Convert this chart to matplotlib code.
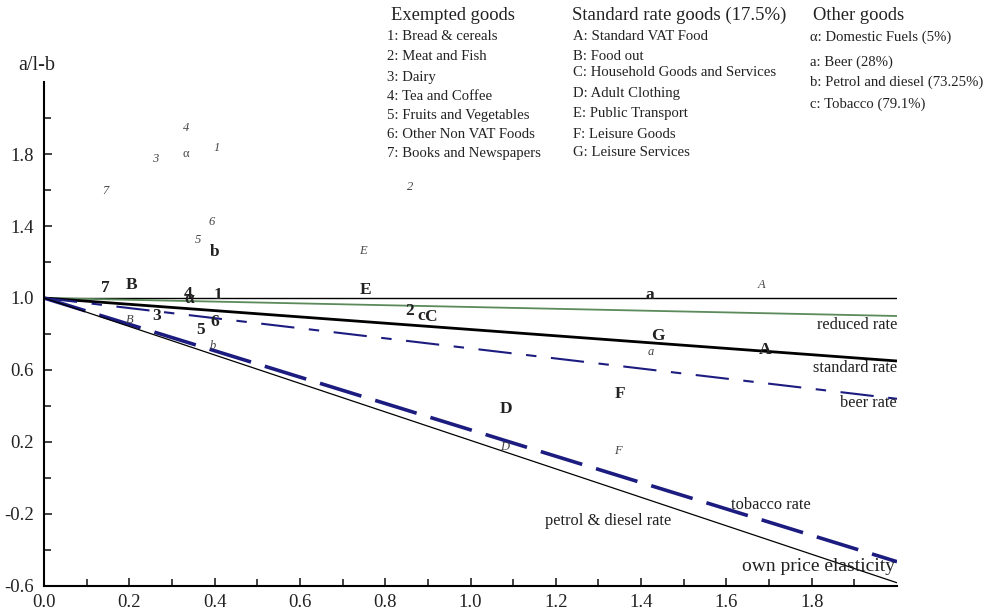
import numpy as np
import matplotlib
matplotlib.use('Agg')
import matplotlib.pyplot as plt

plt.rcParams['font.family'] = ['Liberation Serif', 'DejaVu Serif']

# tax rates of the lines  y = 1 - rate * elasticity
line_names = ['no tax', 'reduced rate', 'standard rate', 'beer rate', 'tobacco rate', 'petrol & diesel rate']
line_rates = [0.0, 0.05, 0.175, 0.28, 0.7325, 0.791]
elast = [0.0, 2.0]

# bold labels (one set of estimates)
bold_lab = ['7', 'B', '4', 'α', '1', 'E', 'a', '2', 'c', 'C', 'G', 'A', '3', '6', '5', 'b', 'D', 'F']
bold_x = [0.143, 0.206, 0.338, 0.34, 0.408, 0.753, 1.421, 0.858, 0.885, 0.907, 1.44, 1.69, 0.265, 0.40, 0.366, 0.40, 1.083, 1.35]
bold_y = [1.056, 1.07, 1.025, 0.995, 1.017, 1.044, 1.017, 0.93, 0.90, 0.895, 0.79, 0.71, 0.90, 0.867, 0.82, 1.256, 0.383, 0.467]

# italic labels (other set of estimates)
ital_lab = ['4', '1', 'α', '3', '7', '6', '5', '2', 'E', 'A', 'B', 'b', 'a', 'D', 'F']
ital_x = [0.333, 0.406, 0.333, 0.26, 0.145, 0.394, 0.361, 0.858, 0.748, 1.683, 0.202, 0.396, 1.423, 1.081, 1.346]
ital_y = [1.944, 1.833, 1.80, 1.772, 1.594, 1.422, 1.322, 1.617, 1.261, 1.072, 0.878, 0.733, 0.70, 0.172, 0.15]

exempt = ['1: Bread & cereals', '2: Meat and Fish', '3: Dairy', '4: Tea and Coffee',
          '5: Fruits and Vegetables', '6: Other Non VAT Foods', '7: Books and Newspapers']
standard = ['A: Standard VAT Food', 'B: Food out', 'C: Household Goods and Services',
            'D: Adult Clothing', 'E: Public Transport', 'F: Leisure Goods', 'G: Leisure Services']
other = ['α: Domestic Fuels (5%)', 'a: Beer (28%)', 'b: Petrol and diesel (73.25%)', 'c: Tobacco (79.1%)']

W, H = 995, 612
fig = plt.figure(figsize=(W / 100, H / 100), dpi=100)
ax = fig.add_axes([44 / W, 26 / H, 853 / W, 504 / H])

def px(x, y):
    return x / W, 1 - y / H

tc = '#222222'
navy = '#1c1c80'
styles = [dict(color='black', lw=1.0),
          dict(color='#5b8a5b', lw=1.3),
          dict(color='black', lw=2.0),
          dict(color=navy, lw=1.5, dashes=(16, 7, 5, 7)),
          dict(color=navy, lw=2.6, dashes=(12, 4)),
          dict(color='black', lw=0.9)]
for r, st in zip(line_rates, styles):
    ys = [1 - r * e for e in elast]
    ax.plot(elast, ys, solid_capstyle='butt', **st)

ax.set_xlim(0, 2.0)
ax.set_ylim(-0.6, 2.2)
ax.spines['top'].set_visible(False)
ax.spines['right'].set_visible(False)
ax.spines['left'].set_linewidth(1.5)
ax.spines['bottom'].set_linewidth(1.5)
ax.set_xticks(np.arange(0, 1.81, 0.2))
ax.set_xticks(np.arange(0.1, 1.91, 0.2), minor=True)
ax.set_xticklabels(['%.1f' % v for v in np.arange(0, 1.81, 0.2)])
yt = [-0.6, -0.2, 0.2, 0.6, 1.0, 1.4, 1.8]
ax.set_yticks(yt)
ax.set_yticklabels(['%.1f' % v for v in yt])
ax.set_yticks([-0.4, 0.0, 0.4, 0.8, 1.2, 1.6, 2.0], minor=True)
ax.tick_params(which='both', direction='in', colors=tc, labelsize=13.5, width=1.2)
ax.tick_params(which='major', length=6)
ax.tick_params(which='minor', length=5)
ax.tick_params(axis='y', pad=7.5)
ax.tick_params(axis='x', pad=5.5)

# line labels
lf = 11.8
ax.text(2.0, 0.85, 'reduced rate', ha='right', va='center', fontsize=lf, color=tc)
ax.text(2.0, 0.61, 'standard rate', ha='right', va='center', fontsize=lf, color=tc)
ax.text(2.0, 0.415, 'beer rate', ha='right', va='center', fontsize=lf, color=tc)
ax.text(1.61, -0.15, 'tobacco rate', ha='left', va='center', fontsize=lf, color=tc)
ax.text(1.175, -0.24, 'petrol & diesel rate', ha='left', va='center', fontsize=lf, color=tc)
ax.text(1.995, -0.49, 'own price elasticity', ha='right', va='center', fontsize=14, color=tc)

for s, x, y in zip(bold_lab, bold_x, bold_y):
    ax.text(x, y, s, ha='center', va='center', fontsize=12.5, fontweight='bold', color=tc)
for s, x, y in zip(ital_lab, ital_x, ital_y):
    st = 'normal' if s == 'α' else 'italic'
    ax.text(x, y, s, ha='center', va='center', fontsize=9, fontstyle=st, color='#444444')

# y axis title
fig.text(*px(18, 66), 'a/l-b', ha='left', va='center', fontsize=14.5, color=tc)

# key
fig.text(*px(391, 15), 'Exempted goods', ha='left', va='center', fontsize=13.3, color=tc)
for s, y in zip(exempt, [37, 57, 77, 96, 115, 134, 153]):
    fig.text(*px(387, y), s, ha='left', va='center', fontsize=10.6, color=tc)
fig.text(*px(572, 15), 'Standard rate goods (17.5%)', ha='left', va='center', fontsize=13.5, color=tc)
for s, y in zip(standard, [37, 57, 73, 93, 113, 134, 153]):
    fig.text(*px(573, y), s, ha='left', va='center', fontsize=10.6, color=tc)
fig.text(*px(813, 15), 'Other goods', ha='left', va='center', fontsize=13.3, color=tc)
for s, y in zip(other, [37, 62, 82, 104]):
    fig.text(*px(810, y), s, ha='left', va='center', fontsize=10.6, color=tc)

fig.savefig('out.png', dpi=100)
